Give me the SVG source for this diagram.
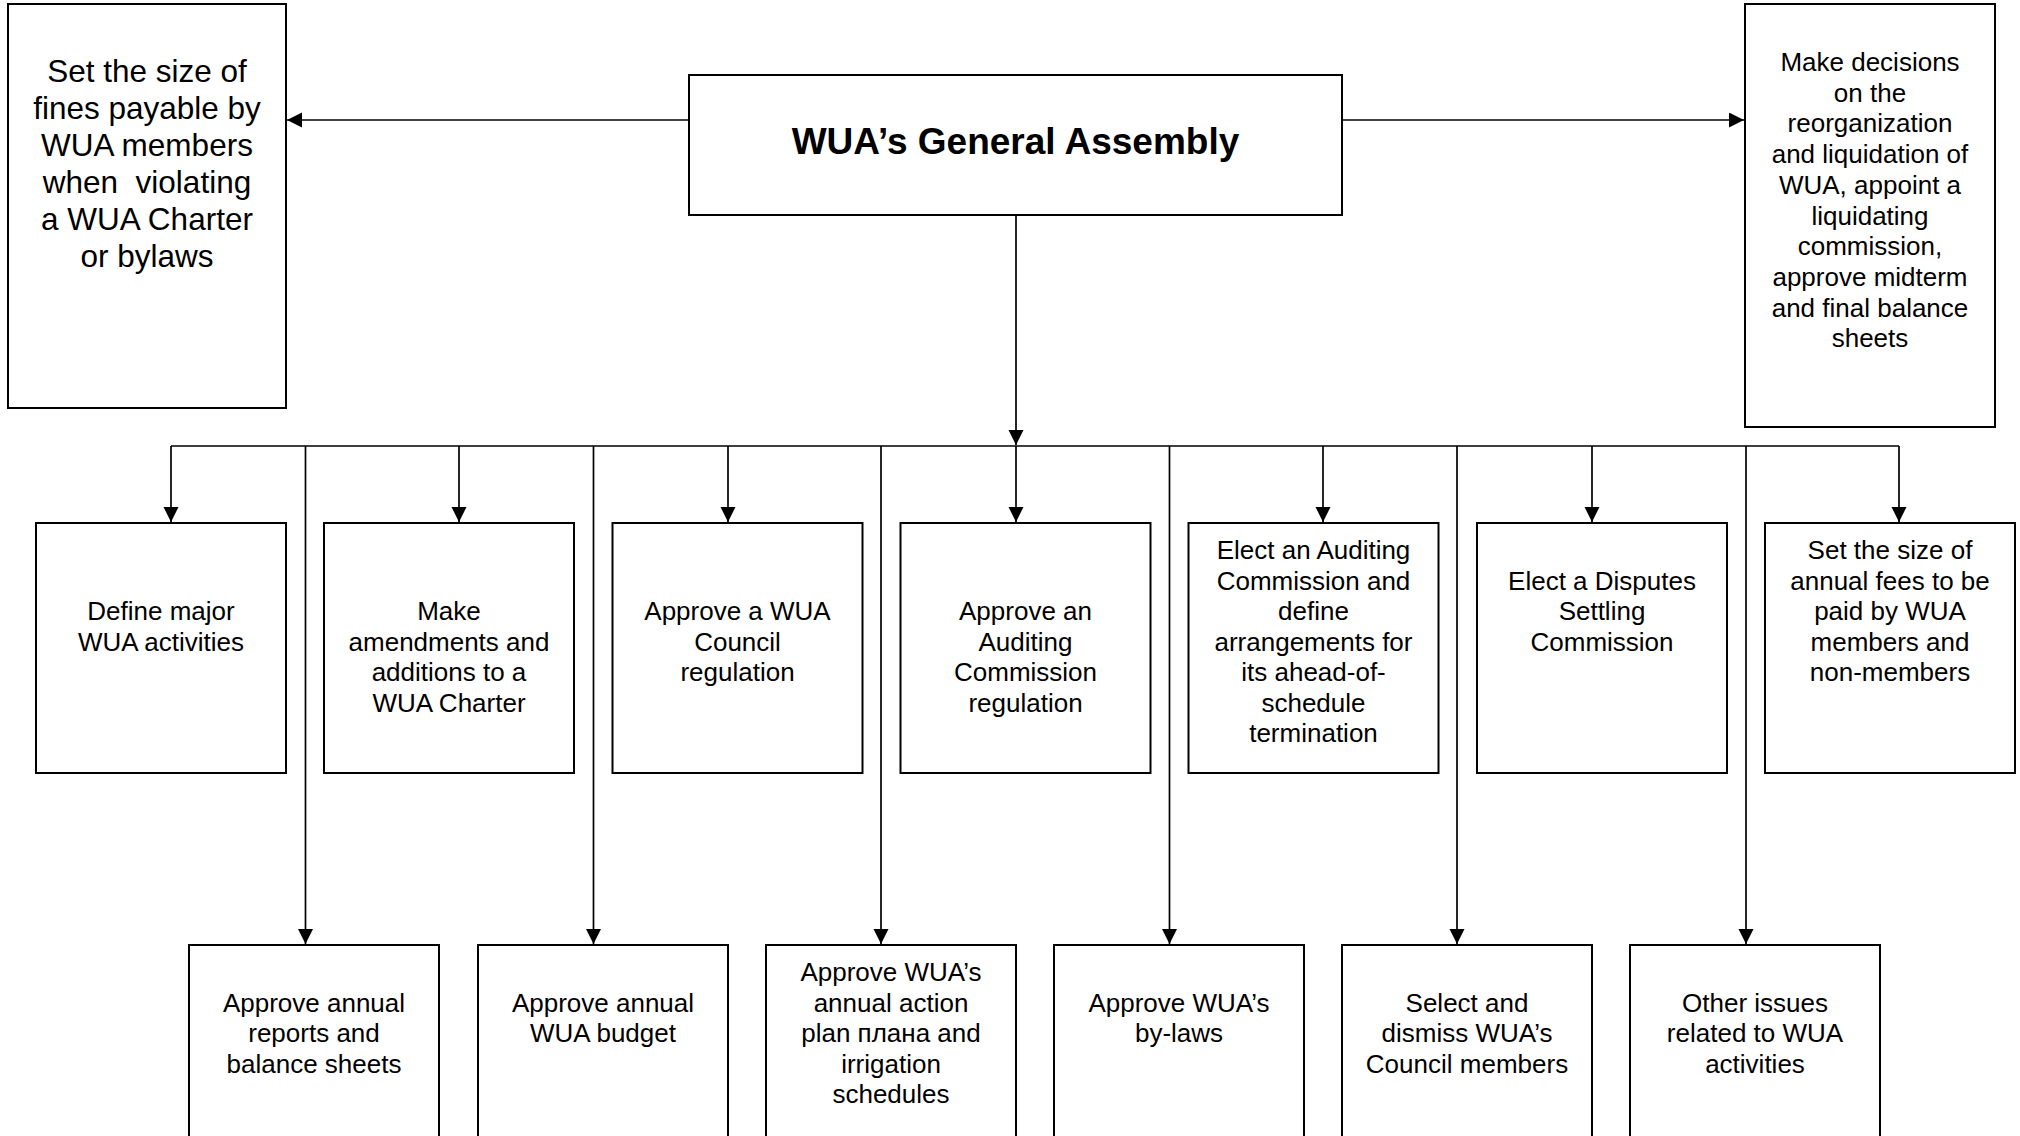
<svg xmlns="http://www.w3.org/2000/svg" width="2020" height="1136" viewBox="0 0 2020 1136">
<style>
.box{fill:#fff;stroke:#000;stroke-width:2}
.ln{fill:none;stroke:#000;stroke-width:1.7}
.t{font-family:"Liberation Sans",Arial,sans-serif;font-size:26px;text-anchor:middle;fill:#000}
.tl{font-family:"Liberation Sans",Arial,sans-serif;font-size:31.5px;text-anchor:middle;fill:#000}
.tt{font-family:"Liberation Sans",Arial,sans-serif;font-size:37px;font-weight:bold;text-anchor:middle;fill:#000}
</style>
<defs>
<marker id="ah" markerUnits="userSpaceOnUse" markerWidth="16" markerHeight="16" refX="15" refY="7.5" orient="auto">
<path d="M0,0 L15,7.5 L0,15 z" fill="#000"/>
</marker>
</defs>
<rect width="2020" height="1136" fill="#fff"/>

<g id="connectors">
<line class="ln" x1="689" y1="120" x2="287" y2="120" marker-end="url(#ah)"/>
<line class="ln" x1="1342" y1="120" x2="1744" y2="120" marker-end="url(#ah)"/>
<line class="ln" x1="1016" y1="215" x2="1016" y2="445" marker-end="url(#ah)"/>
<line class="ln" x1="171" y1="446" x2="1899" y2="446"/>
<line class="ln" x1="171" y1="446" x2="171" y2="522" marker-end="url(#ah)"/>
<line class="ln" x1="459" y1="446" x2="459" y2="522" marker-end="url(#ah)"/>
<line class="ln" x1="728" y1="446" x2="728" y2="522" marker-end="url(#ah)"/>
<line class="ln" x1="1016" y1="446" x2="1016" y2="522" marker-end="url(#ah)"/>
<line class="ln" x1="1323" y1="446" x2="1323" y2="522" marker-end="url(#ah)"/>
<line class="ln" x1="1592" y1="446" x2="1592" y2="522" marker-end="url(#ah)"/>
<line class="ln" x1="1899" y1="446" x2="1899" y2="522" marker-end="url(#ah)"/>
<line class="ln" x1="305.5" y1="446" x2="305.5" y2="944" marker-end="url(#ah)"/>
<line class="ln" x1="593.5" y1="446" x2="593.5" y2="944" marker-end="url(#ah)"/>
<line class="ln" x1="881" y1="446" x2="881" y2="944" marker-end="url(#ah)"/>
<line class="ln" x1="1169.5" y1="446" x2="1169.5" y2="944" marker-end="url(#ah)"/>
<line class="ln" x1="1457" y1="446" x2="1457" y2="944" marker-end="url(#ah)"/>
<line class="ln" x1="1746" y1="446" x2="1746" y2="944" marker-end="url(#ah)"/>
</g>

<g id="general-assembly">
<rect class="box" x="689" y="75" width="653" height="140"/>
<text class="tt" x="1015.5" y="154">WUA’s General Assembly</text>
</g>

<g id="fines">
<rect class="box" x="8" y="4" width="278" height="404"/>
<text class="tl" xml:space="preserve"><tspan x="147" y="82">Set the size of</tspan><tspan x="147" y="119">fines payable by</tspan><tspan x="147" y="156">WUA members</tspan><tspan x="147" y="193">when  violating</tspan><tspan x="147" y="230">a WUA Charter</tspan><tspan x="147" y="267">or bylaws</tspan></text>
</g>

<g id="reorganization">
<rect class="box" x="1745" y="4" width="250" height="423"/>
<text class="t"><tspan x="1870" y="71">Make decisions</tspan><tspan x="1870" y="101.7">on the</tspan><tspan x="1870" y="132.4">reorganization</tspan><tspan x="1870" y="163.1">and liquidation of</tspan><tspan x="1870" y="193.8">WUA, appoint a</tspan><tspan x="1870" y="224.5">liquidating</tspan><tspan x="1870" y="255.2">commission,</tspan><tspan x="1870" y="285.9">approve midterm</tspan><tspan x="1870" y="316.6">and final balance</tspan><tspan x="1870" y="347.3">sheets</tspan></text>
</g>

<g id="define-activities">
<rect class="box" x="36" y="523" width="250" height="250"/>
<text class="t"><tspan x="161" y="620">Define major</tspan><tspan x="161" y="650.5">WUA activities</tspan></text>
</g>

<g id="amend-charter">
<rect class="box" x="324" y="523" width="250" height="250"/>
<text class="t"><tspan x="449" y="620">Make</tspan><tspan x="449" y="650.5">amendments and</tspan><tspan x="449" y="681">additions to a</tspan><tspan x="449" y="711.5">WUA Charter</tspan></text>
</g>

<g id="council-regulation">
<rect class="box" x="612.5" y="523" width="250" height="250"/>
<text class="t"><tspan x="737.5" y="620">Approve a WUA</tspan><tspan x="737.5" y="650.5">Council</tspan><tspan x="737.5" y="681">regulation</tspan></text>
</g>

<g id="auditing-regulation">
<rect class="box" x="900.5" y="523" width="250" height="250"/>
<text class="t"><tspan x="1025.5" y="620">Approve an</tspan><tspan x="1025.5" y="650.5">Auditing</tspan><tspan x="1025.5" y="681">Commission</tspan><tspan x="1025.5" y="711.5">regulation</tspan></text>
</g>

<g id="elect-auditing">
<rect class="box" x="1188.5" y="523" width="250" height="250"/>
<text class="t"><tspan x="1313.5" y="559">Elect an Auditing</tspan><tspan x="1313.5" y="589.5">Commission and</tspan><tspan x="1313.5" y="620">define</tspan><tspan x="1313.5" y="650.5">arrangements for</tspan><tspan x="1313.5" y="681">its ahead-of-</tspan><tspan x="1313.5" y="711.5">schedule</tspan><tspan x="1313.5" y="742">termination</tspan></text>
</g>

<g id="elect-disputes">
<rect class="box" x="1477" y="523" width="250" height="250"/>
<text class="t"><tspan x="1602" y="589.5">Elect a Disputes</tspan><tspan x="1602" y="620">Settling</tspan><tspan x="1602" y="650.5">Commission</tspan></text>
</g>

<g id="annual-fees">
<rect class="box" x="1765" y="523" width="250" height="250"/>
<text class="t"><tspan x="1890" y="559">Set the size of</tspan><tspan x="1890" y="589.5">annual fees to be</tspan><tspan x="1890" y="620">paid by WUA</tspan><tspan x="1890" y="650.5">members and</tspan><tspan x="1890" y="681">non-members</tspan></text>
</g>

<g id="annual-reports">
<rect class="box" x="189" y="945" width="250" height="210"/>
<text class="t"><tspan x="314" y="1011.5">Approve annual</tspan><tspan x="314" y="1042">reports and</tspan><tspan x="314" y="1072.5">balance sheets</tspan></text>
</g>

<g id="annual-budget">
<rect class="box" x="478" y="945" width="250" height="210"/>
<text class="t"><tspan x="603" y="1011.5">Approve annual</tspan><tspan x="603" y="1042">WUA budget</tspan></text>
</g>

<g id="action-plan">
<rect class="box" x="766" y="945" width="250" height="210"/>
<text class="t"><tspan x="891" y="981">Approve WUA’s</tspan><tspan x="891" y="1011.5">annual action</tspan><tspan x="891" y="1042">plan плана and</tspan><tspan x="891" y="1072.5">irrigation</tspan><tspan x="891" y="1103">schedules</tspan></text>
</g>

<g id="bylaws">
<rect class="box" x="1054" y="945" width="250" height="210"/>
<text class="t"><tspan x="1179" y="1011.5">Approve WUA’s</tspan><tspan x="1179" y="1042">by-laws</tspan></text>
</g>

<g id="council-members">
<rect class="box" x="1342" y="945" width="250" height="210"/>
<text class="t"><tspan x="1467" y="1011.5">Select and</tspan><tspan x="1467" y="1042">dismiss WUA’s</tspan><tspan x="1467" y="1072.5">Council members</tspan></text>
</g>

<g id="other-issues">
<rect class="box" x="1630" y="945" width="250" height="210"/>
<text class="t"><tspan x="1755" y="1011.5">Other issues</tspan><tspan x="1755" y="1042">related to WUA</tspan><tspan x="1755" y="1072.5">activities</tspan></text>
</g>
</svg>
